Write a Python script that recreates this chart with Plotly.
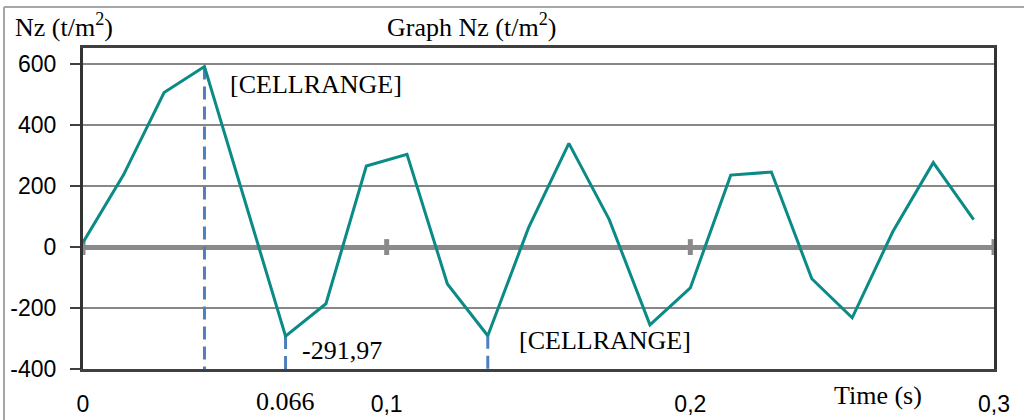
import plotly.graph_objects as go

# ---- data ----
time_s = [0.0, 0.0133, 0.0267, 0.04, 0.0533, 0.0667, 0.08, 0.0933, 0.1067, 0.12,
          0.1333, 0.1467, 0.16, 0.1733, 0.1867, 0.2, 0.2133, 0.2267, 0.24, 0.2533,
          0.2667, 0.28, 0.2933]
nz = [15, 236, 507, 592, 152, -291.97, -186, 266, 304, -121,
      -291, 63, 340, 90, -255, -134, 236, 246, -104, -232,
      51, 277, 90]
drop_idx = [3, 5, 10]                      # points with dashed drop lines
point_labels = {3: "[CELLRANGE]", 5: "-291,97", 10: "[CELLRANGE]"}
x_tickvals = [0, 0.1, 0.2, 0.3]
x_ticktext = ["0", "0,1", "0,2", "0,3"]
y_tickvals = [-400, -200, 0, 200, 400, 600]
y_ticktext = ["-400", "-200", "0", "200", "400", "600"]
x_range = [0, 0.3]
y_range = [-400, 653]

# ---- layout geometry (pixels) ----
W, H = 1024, 420
ML, MR, MT, MB = 83, 30, 48, 51
PW, PH = W - ML - MR, H - MT - MB


def px(xp):
    return (xp - ML) / PW


def py(yp):
    return (H - MB - yp) / PH


SERIF = "Liberation Serif"
SANS = "Liberation Sans"
TEAL = "#0B8A86"
BLUE = "#4F7FBE"

fig = go.Figure()

# dashed drop lines
for i in drop_idx:
    fig.add_trace(go.Scatter(
        x=[time_s[i], time_s[i]], y=[nz[i], y_range[0]], mode="lines",
        line=dict(color=BLUE, width=3, dash="13px,7px"),
        hoverinfo="skip", showlegend=False))

# main series
fig.add_trace(go.Scatter(
    x=time_s, y=nz, mode="lines", line=dict(color=TEAL, width=3),
    showlegend=False))

shapes = []
# tick marks on zero line
for xv in x_tickvals:
    shapes.append(dict(type="line", xref="x", yref="y", x0=xv, x1=xv,
                       y0=-26, y1=26, line=dict(color="#8a8a8a", width=5),
                       layer="below"))
# outer chart frame (top & left visible)
shapes.append(dict(type="line", xref="paper", yref="paper", x0=px(4), x1=px(1030),
                   y0=py(7), y1=py(7), line=dict(color="#a6a6a6", width=2)))
shapes.append(dict(type="line", xref="paper", yref="paper", x0=px(4), x1=px(4),
                   y0=py(7), y1=py(430), line=dict(color="#a6a6a6", width=2)))

annotations = []
# data labels
offsets = {3: (24, -18), 5: (14, -14), 10: (29, -5)}
for i, txt in point_labels.items():
    dx, dy = offsets[i]
    annotations.append(dict(x=time_s[i], y=nz[i], xref="x", yref="y", text=txt,
                            showarrow=False, xanchor="left", yanchor="middle",
                            xshift=dx, yshift=dy,
                            font=dict(family=SERIF, size=26, color="black")))
# x value label of the minimum
annotations.append(dict(x=time_s[5], y=0, xref="x", yref="paper", text="0.066",
                        showarrow=False, xanchor="center", yanchor="middle",
                        yshift=-32, font=dict(family=SERIF, size=26, color="black")))
# titles
annotations.append(dict(x=px(13), y=py(25), xref="paper", yref="paper",
                        text="Nz (t/m<sup>2</sup>)", showarrow=False,
                        xanchor="left", yanchor="middle",
                        font=dict(family=SERIF, size=26, color="black")))
annotations.append(dict(x=px(385), y=py(25), xref="paper", yref="paper",
                        text="Graph Nz (t/m<sup>2</sup>)", showarrow=False,
                        xanchor="left", yanchor="middle",
                        font=dict(family=SERIF, size=26, color="black")))
annotations.append(dict(x=px(832), y=py(396), xref="paper", yref="paper",
                        text="Time (s)", showarrow=False,
                        xanchor="left", yanchor="middle",
                        font=dict(family=SERIF, size=26, color="black")))

fig.update_layout(
    width=W, height=H, margin=dict(l=ML, r=MR, t=MT, b=MB, pad=0, autoexpand=False),
    paper_bgcolor="white", plot_bgcolor="white",
    shapes=shapes, annotations=annotations, showlegend=False,
    xaxis=dict(range=x_range, tickvals=x_tickvals, ticktext=x_ticktext,
               showgrid=False, zeroline=False, showline=True, mirror=True,
               linecolor="#404040", linewidth=3, ticks="", automargin=False,
               ticklabelstandoff=12,
               tickfont=dict(family=SANS, size=23, color="black")),
    yaxis=dict(range=y_range, tickvals=y_tickvals, ticktext=y_ticktext,
               showgrid=True, gridcolor="#878787", gridwidth=1.5,
               zeroline=True, zerolinecolor="#8a8a8a", zerolinewidth=5,
               showline=True, mirror=True, linecolor="#333333", linewidth=3,
               ticks="outside", ticklen=10, tickwidth=2, tickcolor="#404040",
               ticklabelstandoff=9, automargin=False,
               tickfont=dict(family=SANS, size=23, color="black")),
)

fig.write_html("out.html")
